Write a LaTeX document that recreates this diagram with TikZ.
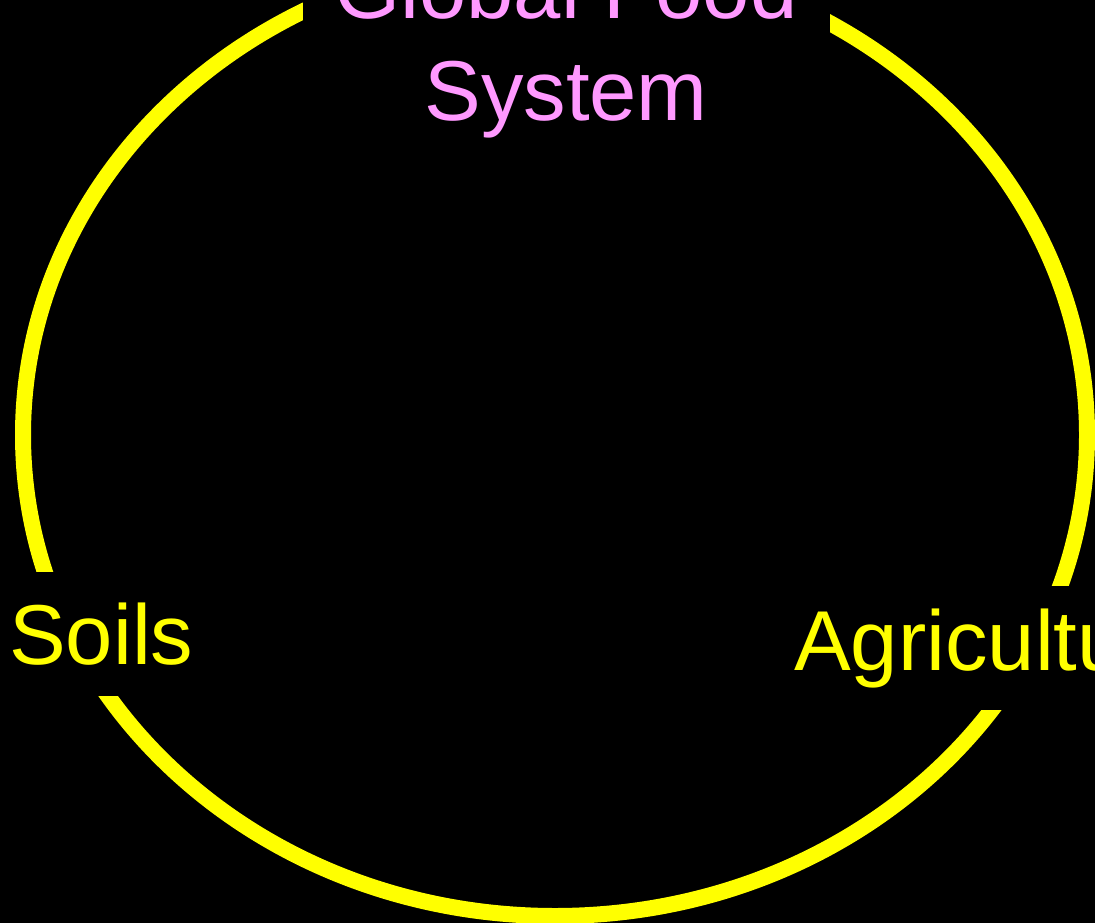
\documentclass[tikz,border=0pt]{standalone}
\usepackage{fontspec}
\setmainfont{Liberation Sans}
\usetikzlibrary{positioning}

\definecolor{ringyellow}{HTML}{FFFF00}
\definecolor{titlepink}{HTML}{FF99FF}

\begin{document}
\begin{tikzpicture}[
  x=1pt, y=-1pt,
  every node/.style={font=\fontsize{85}{102}\selectfont},
  ring/.style={draw=ringyellow, line width=16pt},
  title/.style={fill=black, text=titlepink, align=center,
              inner sep=0pt, minimum width=527pt, minimum height=200pt},
  part/.style={fill=black, text=ringyellow, inner sep=0pt,
              minimum height=124pt, anchor=base west},
]
  \fill[black] (0,0) rectangle (1095,923);
  \useasboundingbox (0,0) rectangle (1095,923);
  \clip (0,0) rectangle (1095,923);

  % the loop
  \draw[ring] (555,435) ellipse [x radius=532pt, y radius=481pt];

  % labels sitting on the loop
  \node[title] (food) at (566,48) {Global Food\\System};
  \node[part] (soils) at (9,664) {Soils};
  \node[part] (agri) at (794,670) {Agriculture};
\end{tikzpicture}
\end{document}
